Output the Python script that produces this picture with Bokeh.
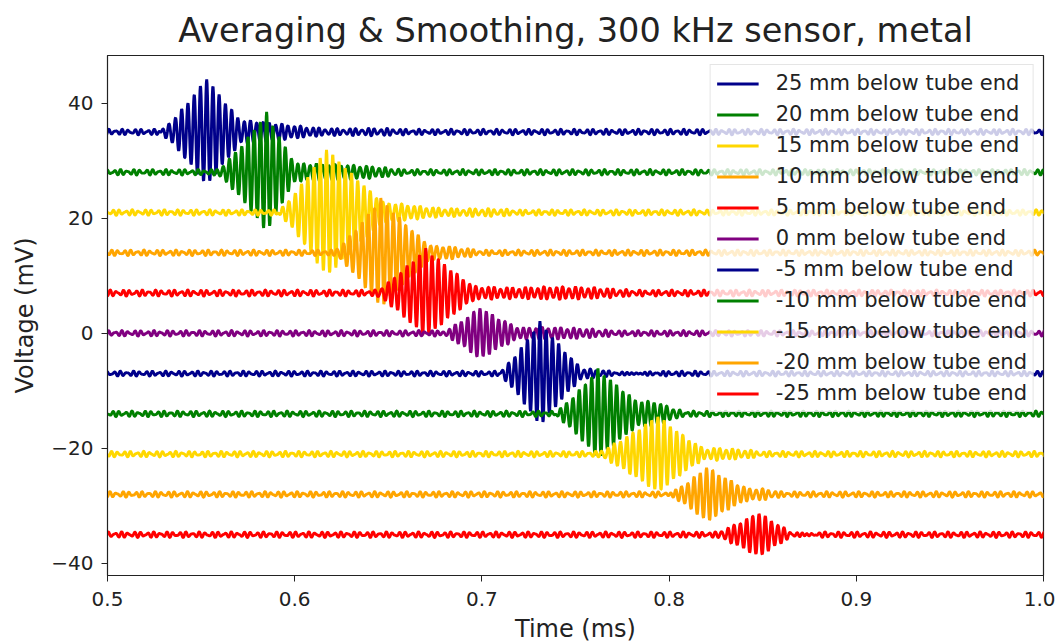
import numpy as np
from bokeh.plotting import figure
from bokeh.models import FixedTicker, Range1d
from bokeh.embed import file_html
from bokeh.resources import INLINE

# ---- data ----
labels = ["25 mm below tube end", "20 mm below tube end", "15 mm below tube end",
          "10 mm below tube end", "5 mm below tube end", "0 mm below tube end",
          "-5 mm below tube end", "-10 mm below tube end", "-15 mm below tube end",
          "-20 mm below tube end", "-25 mm below tube end"]
colors = ["#00008b", "#008000", "#ffd700", "#ffa500", "#ff0000", "#800080",
          "#00008b", "#008000", "#ffd700", "#ffa500", "#ff0000"]
offsets_mv = [35, 28, 21, 14, 7, 0, -7, -14, -21, -28, -35]
burst_start_ms = [0.527, 0.558, 0.590, 0.621, 0.643, 0.677, 0.709, 0.737, 0.762, 0.798, 0.825]
burst_peak_ms = [0.553, 0.585, 0.617, 0.646, 0.670, 0.699, 0.731, 0.762, 0.794, 0.820, 0.848]
burst_end_ms = [0.577, 0.605, 0.655, 0.680, 0.704, 0.727, 0.757, 0.792, 0.826, 0.848, 0.871]
peak_amp_mv = [9.1, 10.6, 10.8, 9.5, 7.4, 4.8, 8.7, 7.6, 6.8, 5.0, 3.8]
tail_amp_mv = [1.6, 1.7, 1.5, 1.3, 1.3, 0.8, 0.7, 1.8, 1.1, 0.7, 0.5]
tail_end_ms = [0.660, 0.660, 0.720, 0.700, 0.790, 0.780, 0.800, 0.810, 0.850, 0.860, 0.880]
ripple_amp_mv = [0.5, 0.5, 0.5, 0.5, 0.55, 0.5, 0.45, 0.5, 0.5, 0.5, 0.5]
carrier_khz = 300.0

x_ticks = [0.5, 0.6, 0.7, 0.8, 0.9, 1.0]
x_tick_labels = ["0.5", "0.6", "0.7", "0.8", "0.9", "1.0"]
y_ticks = [-40, -20, 0, 20, 40]
y_tick_labels = ["\u221240", "\u221220", "0", "20", "40"]

# ---- figure ----
p = figure(frame_width=936, frame_height=520,
           min_border_left=107, min_border_right=12, min_border_top=55, min_border_bottom=66,
           x_range=Range1d(0.5, 1.0), y_range=Range1d(-42.1, 48.3),
           output_backend="svg", toolbar_location=None,
           title="Averaging & Smoothing, 300 kHz sensor, metal")

t = np.arange(0.49, 1.01, 0.0002)  # ms
for i in range(len(labels)):
    st, pk, en = burst_start_ms[i], burst_peak_ms[i], burst_end_ms[i]
    up = np.clip((t - st) / (pk - st), 0, 1) ** 1.2
    dn = np.clip((en - t) / (en - pk), 0, 1) ** 1.2
    env = peak_amp_mv[i] * np.where(t < pk, up, dn)
    tail = tail_amp_mv[i] * np.clip((tail_end_ms[i] - t) / (tail_end_ms[i] - en), 0, 1)
    tail = np.where(t > pk, tail, 0.0)
    env = np.maximum(env, tail)
    ph = 1.3 * i
    ripple = ripple_amp_mv[i] * (0.65 * np.sin(2 * np.pi * 290 * t + ph)
                                 + 0.35 * np.sin(2 * np.pi * 410 * t + 2 * ph))
    y = offsets_mv[i] + env * np.cos(2 * np.pi * carrier_khz * (t - pk)) + ripple
    p.line(t, y, color=colors[i], line_width=2.9, legend_label=labels[i])

p.grid.visible = False
p.outline_line_color = "#222222"
p.outline_line_width = 1.2

p.xaxis.ticker = FixedTicker(ticks=x_ticks)
p.xaxis.major_label_overrides = dict(zip(x_ticks, x_tick_labels))
p.yaxis.ticker = FixedTicker(ticks=y_ticks)
p.yaxis.major_label_overrides = dict(zip(y_ticks, y_tick_labels))
for ax in (p.xaxis, p.yaxis):
    ax.minor_tick_line_color = None
    ax.major_tick_out = 6
    ax.major_tick_in = 0
    ax.axis_line_color = "#222222"
    ax.major_tick_line_color = "#222222"
    ax.major_label_text_font = "DejaVu Sans"
    ax.major_label_text_font_size = "20px"
    ax.major_label_text_color = "#222222"
    ax.axis_label_text_font = "DejaVu Sans"
    ax.axis_label_text_font_size = "24px"
    ax.axis_label_text_font_style = "normal"
    ax.axis_label_text_color = "#222222"
p.xaxis.axis_label = "Time (ms)"
p.yaxis.axis_label = "Voltage (mV)"
p.xaxis.major_label_standoff = 10
p.yaxis.major_label_standoff = 8
p.xaxis.axis_label_standoff = 6
p.yaxis.axis_label_standoff = 9

p.title.text_font = "DejaVu Sans"
p.title.text_font_size = "33.5px"
p.title.text_font_style = "normal"
p.title.text_color = "#222222"
p.title.align = "center"
p.title.standoff = 12

lg = p.legend[0]
lg.location = "top_right"
lg.margin = 9
lg.padding = 6
lg.spacing = 7
lg.label_height = 21
lg.glyph_height = 21
lg.glyph_width = 42
lg.label_standoff = 17
lg.label_text_font = "DejaVu Sans"
lg.label_text_font_size = "21px"
lg.label_text_color = "#222222"
lg.background_fill_alpha = 0.8
lg.border_line_color = "#cccccc"
lg.border_line_width = 1

open("out.html", "w").write(file_html(p, INLINE))
